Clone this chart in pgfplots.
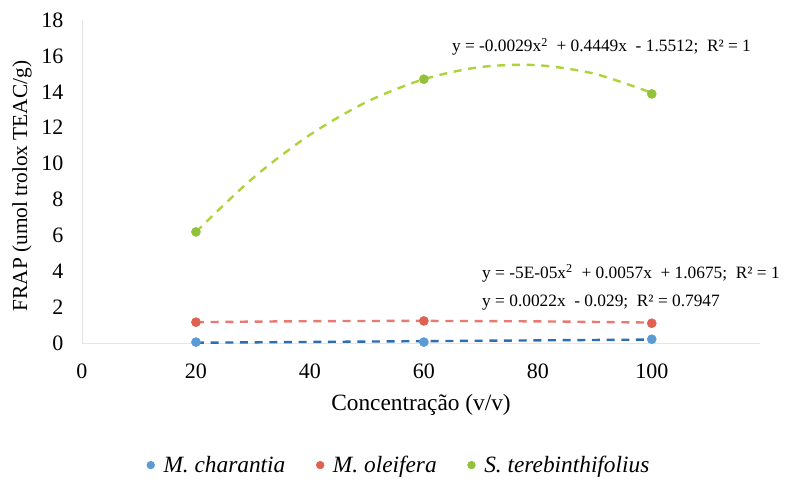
\documentclass[border=0pt]{standalone}
\usepackage{fontspec}
\setmainfont{Liberation Serif}
\usepackage{pgfplots}
\pgfplotsset{compat=1.18}
\definecolor{cblue}{HTML}{5B9BD5}
\definecolor{cbluel}{HTML}{2E6DB0}
\definecolor{cred}{HTML}{E0614F}
\definecolor{credl}{HTML}{E87A72}
\definecolor{cgreen}{HTML}{92C13B}
\definecolor{cgreenl}{HTML}{AED33A}
\begin{document}
\begin{tikzpicture}[x=0.75pt,y=0.75pt]
\path[use as bounding box] (0,0) rectangle (787,479);
\begin{axis}[
  at={(82*0.75pt,136*0.75pt)}, anchor=south west,
  scale only axis, width=678*0.75pt, height=323*0.75pt,
  xmin=0, xmax=119, ymin=0, ymax=18,
  xtick={0,20,40,60,80,100}, ytick={0,2,...,18},
  axis x line=bottom, axis y line=left,
  axis line style={-, draw=gray!20, line width=0.6pt},
  major tick length=0pt,
  /pgf/number format/assume math mode=true,
  tick label style={font=\fontsize{16.5}{18}\selectfont},
  xticklabel style={yshift=-12pt},
  yticklabel style={xshift=-10.5pt},
  xlabel={Concentração (v/v)},
  ylabel={FRAP (umol trolox TEAC/g)},
  xlabel style={font=\fontsize{17.5}{20}\selectfont, at={(axis description cs:0.5,-0.193)}, anchor=center},
  ylabel style={font=\fontsize{16}{18}\selectfont, at={(axis description cs:-0.0885,0.486)}, anchor=center},
  legend columns=3,
  legend style={at={(axis description cs:0.468,-0.378)}, anchor=center, draw=none,
    font=\fontsize{17.5}{20}\itshape, column sep=21pt,
    /tikz/every odd column/.append style={column sep=4.5pt}},
  legend image code/.code={\fill (0pt,0pt) circle (2.9pt);},
  clip=false,
]
% trendlines
\addplot[forget plot, cbluel, line width=1.8pt, dash pattern=on 6pt off 5pt] coordinates {(20,0.015) (100,0.191)};
\addplot[forget plot, credl, line width=1.8pt, dash pattern=on 6pt off 5pt, smooth] coordinates {(20,1.162) (40,1.216) (60,1.230) (80,1.204) (100,1.138)};
\addplot[forget plot, cgreenl, line width=1.8pt, dash pattern=on 6pt off 5pt, smooth] coordinates {(20,6.19) (30,9.19) (40,11.60) (50,13.44) (60,14.70) (70,15.38) (80,15.48) (90,15.00) (100,13.94)};
% data
\addplot[only marks, mark=*, mark size=3.4pt, cblue, mark options={draw=cblue, fill=cblue}] coordinates {(20,0.05) (60,0.05) (100,0.21)};
\addlegendentry{M. charantia}
\addplot[only marks, mark=*, mark size=3.4pt, cred, mark options={draw=cred, fill=cred}] coordinates {(20,1.16) (60,1.23) (100,1.10)};
\addlegendentry{M. oleifera}
\addplot[only marks, mark=*, mark size=3.4pt, cgreen, mark options={draw=cgreen, fill=cgreen}] coordinates {(20,6.19) (60,14.70) (100,13.88)};
\addlegendentry{S. terebinthifolius}
\node[anchor=west, font=\fontsize{13}{15}\selectfont, inner sep=0pt] at (axis cs:64.9,16.5) {y = -0.0029x\textsuperscript{2}\ \ + 0.4449x\ \ - 1.5512;\ \ R² = 1};
\node[anchor=west, font=\fontsize{13}{15}\selectfont, inner sep=0pt] at (axis cs:70.2,3.9) {y = -5E-05x\textsuperscript{2}\ \ + 0.0057x\ \ + 1.0675;\ \ R² = 1};
\node[anchor=west, font=\fontsize{13}{15}\selectfont, inner sep=0pt] at (axis cs:70.2,2.23) {y = 0.0022x\ \ - 0.029;\ \ R² = 0.7947};
\end{axis}
\end{tikzpicture}
\end{document}
